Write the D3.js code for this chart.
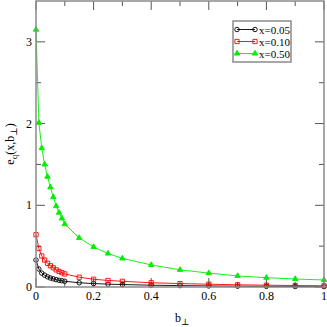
<!DOCTYPE html>
<html>
<head>
<meta charset="utf-8">
<script src="https://cdn.jsdelivr.net/npm/d3@7"></script>
<style>
body { margin: 0; background: #fff; }
text { font-family: "Liberation Serif", "DejaVu Serif", serif; }
</style>
</head>
<body>
<svg width="327" height="327"></svg>
<script>
var svg = d3.select('svg')

// b_perp values shared by all three curves
var bPerp = [0, 0.01, 0.02, 0.03, 0.04, 0.05, 0.06, 0.07, 0.08, 0.09, 0.1,
	0.15, 0.2, 0.25, 0.3, 0.4, 0.5, 0.6, 0.7, 0.8, 0.9, 1.0]

var x005 = [0.33, 0.22, 0.17, 0.145, 0.125, 0.11, 0.1, 0.09, 0.082, 0.076, 0.07,
	0.052, 0.042, 0.035, 0.03, 0.022, 0.017, 0.013, 0.01, 0.008, 0.006, 0.005]
var x010 = [0.64, 0.47, 0.38, 0.33, 0.29, 0.26, 0.235, 0.21, 0.19, 0.175, 0.16,
	0.12, 0.095, 0.08, 0.07, 0.052, 0.042, 0.034, 0.027, 0.022, 0.018, 0.015]
var x050 = [3.15, 2.01, 1.70, 1.50, 1.35, 1.22, 1.10, 0.99, 0.91, 0.84, 0.77,
	0.60, 0.49, 0.41, 0.35, 0.27, 0.21, 0.17, 0.135, 0.114, 0.098, 0.086]

var seriesNames = ["x=0.05", "x=0.10", "x=0.50"]
var seriesValues = [x005, x010, x050]
var seriesColors = ["#000000", "#ff0000", "#00ee00"]
var seriesMarkers = ["circle", "square", "triangle"]

var xTicks = [0, 0.2, 0.4, 0.6, 0.8, 1]
var xMinor = [0.1, 0.3, 0.5, 0.7, 0.9]
var yTicks = [0, 1, 2, 3]
var yMinor = [0.5, 1.5, 2.5]

var plotLeft = 36, plotRight = 324, plotTop = 1, plotBottom = 287

var x = d3.scaleLinear().domain([0, 1]).range([plotLeft, plotRight])
var y = d3.scaleLinear().domain([0, 3.5]).range([plotBottom, plotTop])

var frameColor = "#8a8a8a"

//Ticks pointing inward on all four sides
function xTickLines(values, len) {
	var g = svg.append('g').attr('stroke', '#555').attr('stroke-width', 1)
	values.forEach(function(v) {
		g.append('line').attr('x1', x(v)).attr('x2', x(v)).attr('y1', plotBottom).attr('y2', plotBottom - len)
		g.append('line').attr('x1', x(v)).attr('x2', x(v)).attr('y1', plotTop).attr('y2', plotTop + len)
	})
}
function yTickLines(values, len) {
	var g = svg.append('g').attr('stroke', '#555').attr('stroke-width', 1)
	values.forEach(function(v) {
		g.append('line').attr('y1', y(v)).attr('y2', y(v)).attr('x1', plotLeft).attr('x2', plotLeft + len)
		g.append('line').attr('y1', y(v)).attr('y2', y(v)).attr('x1', plotRight).attr('x2', plotRight - len)
	})
}
xTickLines(xMinor, 5)
xTickLines(xTicks, 9)
yTickLines(yMinor, 5)
yTickLines(yTicks, 9)

// data lines
var line = d3.line()
	.x(function(d, i) { return x(bPerp[i]) })
	.y(function(d) { return y(d) })

var symbolType = {
	circle: d3.symbolCircle,
	square: d3.symbolSquare,
	triangle: d3.symbolTriangle
}
var symbolSize = { circle: 16, square: 18, triangle: 13 }

function marker(g, type, color) {
	var p = g.append('path')
		.attr('d', d3.symbol().type(symbolType[type]).size(symbolSize[type])())
		.attr('stroke', color)
		.attr('stroke-width', 0.9)
	if (type == 'triangle') p.attr('fill', color)
	else p.attr('fill', 'none')
	return p
}

seriesValues.forEach(function(vals, s) {
	var g = svg.append('g')
	g.append('path')
		.datum(vals)
		.attr('d', line)
		.attr('fill', 'none')
		.attr('stroke', seriesColors[s])
		.attr('stroke-width', 0.9)
	vals.forEach(function(v, i) {
		marker(g, seriesMarkers[s], seriesColors[s])
			.attr('transform', 'translate(' + x(bPerp[i]) + ',' + y(v) + ')')
	})
})

// frame
svg.append('rect')
	.attr('x', plotLeft).attr('y', plotTop)
	.attr('width', plotRight - plotLeft).attr('height', plotBottom - plotTop)
	.attr('fill', 'none')
	.attr('stroke', frameColor)
	.attr('stroke-width', 1.5)

// tick labels
svg.selectAll('.xlab').data(xTicks).enter().append('text')
	.attr('x', function(d) { return x(d) })
	.attr('y', 300)
	.attr('text-anchor', 'middle')
	.attr('font-size', 12)
	.text(function(d) { return d3.format('')(d) })

svg.selectAll('.ylab').data(yTicks).enter().append('text')
	.attr('x', 32)
	.attr('y', function(d) { return y(d) + 4 })
	.attr('text-anchor', 'end')
	.attr('font-size', 12)
	.text(function(d) { return d })

// axis titles
var xt = svg.append('text')
	.attr('x', 175).attr('y', 322)
	.attr('font-size', 12)
xt.append('tspan').text('b')
xt.append('tspan').attr('font-size', 9).attr('dy', 3).text('\u22a5')

var yt = svg.append('text')
	.attr('transform', 'translate(14,' + ((plotTop + plotBottom) / 2) + ') rotate(-90)')
	.attr('text-anchor', 'middle')
	.attr('font-size', 12)
yt.append('tspan').text('e')
yt.append('tspan').attr('font-size', 9).attr('dy', 3).text('q')
yt.append('tspan').attr('dy', -3).text('(x,b')
yt.append('tspan').attr('font-size', 9).attr('dy', 3).text('\u22a5')
yt.append('tspan').attr('dy', -3).text(')')

// legend
var legend = svg.append('g').attr('transform', 'translate(233,21)')
legend.append('rect')
	.attr('width', 58).attr('height', 41)
	.attr('fill', '#fff')
	.attr('stroke', frameColor)
	.attr('stroke-width', 1.5)
seriesNames.forEach(function(name, s) {
	var ly = 8.5 + s * 12
	legend.append('line')
		.attr('x1', 4).attr('x2', 22).attr('y1', ly).attr('y2', ly)
		.attr('stroke', seriesColors[s]).attr('stroke-width', 0.9)
	marker(legend, seriesMarkers[s], seriesColors[s]).attr('transform', 'translate(4,' + ly + ')')
	marker(legend, seriesMarkers[s], seriesColors[s]).attr('transform', 'translate(22,' + ly + ')')
	legend.append('text')
		.attr('x', 26).attr('y', ly + 4)
		.attr('font-size', 11)
		.text(name)
})
</script>
</body>
</html>
